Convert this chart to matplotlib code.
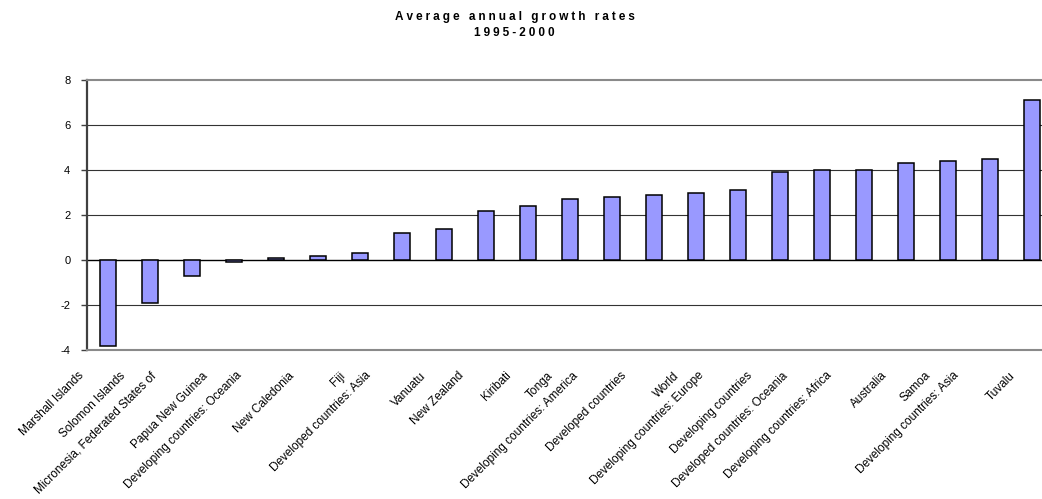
import numpy as np
import matplotlib.pyplot as plt
import matplotlib.transforms as mtransforms

plt.rcParams['font.family'] = ['Liberation Sans', 'DejaVu Sans']

# Growth rates by country / region group
categories = [
    "Marshall Islands", "Solomon Islands", "Micronesia, Federated States of",
    "Papua New Guinea", "Developing countries: Oceania", "New Caledonia",
    "Fiji", "Developed countries: Asia", "Vanuatu", "New Zealand",
    "Kiribati", "Tonga", "Developing countries: America",
    "Developed countries", "World", "Developing countries: Europe",
    "Developing countries", "Developed countries: Oceania",
    "Developing countries: Africa", "Australia", "Samoa",
    "Developing countries: Asia", "Tuvalu",
]
growth = [-3.8, -1.9, -0.7, -0.1, 0.1, 0.2, 0.3, 1.2, 1.4, 2.2, 2.4, 2.7,
          2.8, 2.9, 3.0, 3.1, 3.9, 4.0, 4.0, 4.3, 4.4, 4.5, 7.1]
yticks = [-4, -2, 0, 2, 4, 6, 8]
title_lines = ["Average annual growth rates", "1995-2000"]

fig = plt.figure(figsize=(10.42, 4.99), dpi=100)
# plot area runs a little past the right edge of the canvas
ax = fig.add_axes([87 / 1042, 1 - 350 / 499, 966 / 1042, 270 / 499])

x = np.arange(len(categories))
ax.bar(x, growth, width=0.4, color='#9999ff', edgecolor='black',
       linewidth=1.1, zorder=3)

ax.set_xlim(-0.5, len(categories) - 0.5)
ax.set_ylim(-4, 8)
ax.set_yticks(yticks)
ax.set_yticklabels([str(v) for v in yticks], fontsize=8)
ax.tick_params(axis='y', length=4, width=1, color='#404040', pad=8)
ax.tick_params(axis='x', length=0)

for v in yticks[1:-1]:
    ax.axhline(v, color='black' if v == 0 else '#333333',
               linewidth=1.0 if v == 0 else 0.8, zorder=2)

for side in ['top', 'bottom']:
    ax.spines[side].set_color('#8a8a8a')
    ax.spines[side].set_linewidth(1.5)
ax.spines['left'].set_color('#404040')
ax.spines['left'].set_linewidth(1.6)
ax.spines['right'].set_visible(False)

# rotated category labels hanging below the plot area;
# longer labels sit further left of their tick
ax.set_xticks(x)
ax.set_xticklabels([])
renderer = fig.canvas.get_renderer()
for xi, name in zip(x, categories):
    probe = fig.text(0, 0, name, fontsize=8.5)
    width_px = probe.get_window_extent(renderer).width
    probe.remove()
    dx = -(14 + 0.14 * width_px)
    offset = mtransforms.ScaledTranslation(dx / 100, -24 / 100,
                                           fig.dpi_scale_trans)
    ax.text(xi, 0, name, transform=ax.get_xaxis_transform() + offset,
            rotation=45, rotation_mode='anchor', ha='right', va='center',
            fontsize=8.5)

# spaced-out bold title
for line, ypix in zip(title_lines, [17, 33]):
    spaced = '\u2005'.join(line)
    fig.text(0.494, 1 - ypix / 499, spaced, ha='center', va='center',
             fontsize=8.5, fontweight='bold')

fig.savefig('out.png', dpi=100)
